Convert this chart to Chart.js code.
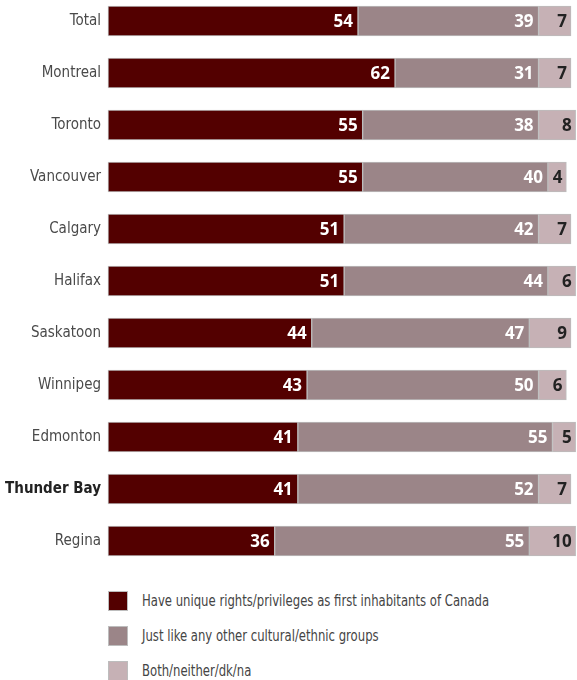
<!DOCTYPE html>
<html>
<head>
<meta charset="utf-8">
<script src="https://cdn.jsdelivr.net/npm/chart.js@4"></script>
<style>
  body { margin: 0; background: #fff; }
  #wrap { position: relative; width: 577px; height: 680px; }
  #legend { position: absolute; left: 108px; top: 588px; font-family: 'DejaVu Sans Condensed', sans-serif; font-size: 16px; color: #444; }
  .item { display: flex; align-items: center; height: 35px; }
  .box { width: 20px; height: 20px; box-sizing: border-box; border: 1px solid #bdbdbd; margin-right: 14px; margin-top: -10px; flex: none; }
  .txt { margin-top: -10px; white-space: nowrap; display: inline-block; transform: scaleX(0.81); transform-origin: left center; }
</style>
</head>
<body>
<div id="wrap">
  <canvas id="chart" width="577" height="570"></canvas>
  <div id="legend"></div>
</div>
<script>
// values
const categories = ['Total', 'Montreal', 'Toronto', 'Vancouver', 'Calgary', 'Halifax', 'Saskatoon', 'Winnipeg', 'Edmonton', 'Thunder Bay', 'Regina'];
const uniqueRights = [54, 62, 55, 55, 51, 51, 44, 43, 41, 41, 36];
const likeOthers = [39, 31, 38, 40, 42, 44, 47, 50, 55, 52, 55];
const bothNeither = [7, 7, 8, 4, 7, 6, 9, 6, 5, 7, 10];
const seriesNames = [
    'Have unique rights/privileges as first inhabitants of Canada',
    'Just like any other cultural/ethnic groups',
    'Both/neither/dk/na'
];

const colors = ['#530000', '#9b8588', '#c6b1b5'];
const labelColors = ['#fff', '#fff', '#222'];

// draws the numbers at the right end of every segment
const valueLabels = {
    id: 'valueLabels',
    afterDatasetsDraw(chart) {
        const ctx = chart.ctx;
        ctx.save();
        ctx.font = 'bold 17px "Open Sans", sans-serif';
        ctx.textAlign = 'right';
        ctx.textBaseline = 'middle';
        chart.data.datasets.forEach((ds, i) => {
            const meta = chart.getDatasetMeta(i);
            ctx.fillStyle = labelColors[i];
            meta.data.forEach((bar, j) => {
                const pad = i == 2 ? 4 : 5;
                ctx.fillText(ds.data[j], bar.x - pad, bar.y + 1);
            });
        });
        ctx.restore();
    }
};

const makeSet = (label, data, i) => ({
    label: label,
    data: data,
    backgroundColor: colors[i],
    borderColor: '#bdbdbd',
    borderWidth: 1,
    borderSkipped: false,
    barThickness: 30,
    clip: false
});

new Chart('chart', {
    type: 'bar',
    data: {
        labels: categories,
        datasets: [
            makeSet(seriesNames[0], uniqueRights, 0),
            makeSet(seriesNames[1], likeOthers, 1),
            makeSet(seriesNames[2], bothNeither, 2)
        ]
    },
    options: {
        indexAxis: 'y',
        responsive: false,
        animation: false,
        layout: { padding: { top: 21, bottom: 29, left: 0, right: 6 } },
        plugins: { legend: { display: false }, tooltip: { enabled: false } },
        scales: {
            x: { stacked: true, min: 0, max: 100, display: false },
            y: {
                stacked: true,
                offset: false,
                grid: { display: false, drawTicks: false },
                border: { display: false },
                afterFit: (scale) => { scale.width = 108; },
                ticks: {
                    padding: 7,
                    color: (c) => c.index == 9 ? '#222' : '#4a4a4a',
                    font: (c) => ({
                        family: "'DejaVu Sans Condensed', sans-serif",
                        size: 15,
                        weight: c.index == 9 ? 'bold' : 'normal'
                    })
                }
            }
        }
    },
    plugins: [valueLabels]
});

// legend below the bars
const legend = document.getElementById('legend');
seriesNames.forEach((name, i) => {
    const item = document.createElement('div');
    item.className = 'item';
    item.innerHTML = '<span class="box" style="background:' + colors[i] + '"></span><span class="txt">' + name + '</span>';
    legend.appendChild(item);
});
</script>
</body>
</html>
